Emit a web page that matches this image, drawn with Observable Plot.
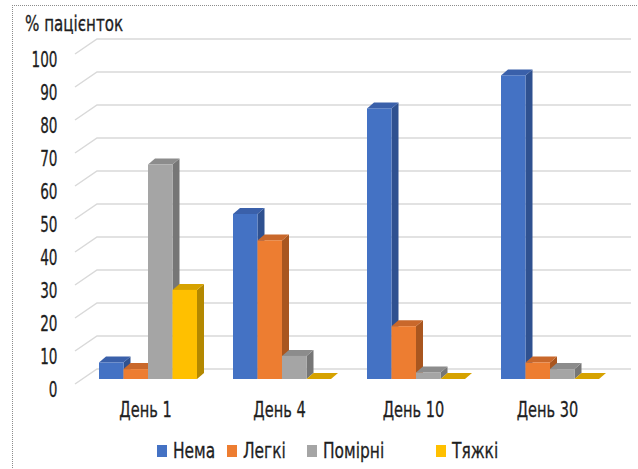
<!DOCTYPE html>
<html><head><meta charset="utf-8">
<script src="https://cdn.jsdelivr.net/npm/d3@7"></script>
<script src="https://cdn.jsdelivr.net/npm/@observablehq/plot@0.6"></script>
<style>
html,body{margin:0;padding:0;background:#fff;}
body{width:638px;height:469px;position:relative;overflow:hidden;font-family:"DejaVu Sans Condensed","DejaVu Sans",sans-serif;color:#1e1e1e;}
#frame{position:absolute;left:12px;top:5px;width:700px;height:600px;border-left:1px dotted #8c8c8c;border-top:1px dotted #8c8c8c;}
#title{position:absolute;left:25px;top:12px;font-size:21px;transform:scaleX(0.8);transform-origin:left center;white-space:nowrap;-webkit-text-stroke:0.3px #1e1e1e;}
#chart{position:absolute;left:0;top:0;}
#chart text{stroke:#1e1e1e;stroke-width:0.3px;}
#legend{position:absolute;left:157px;top:438px;display:flex;align-items:center;font-size:22px;white-space:nowrap;}
.item{display:flex;align-items:center;}
.sw{display:inline-block;width:10px;height:12px;margin-right:6px;flex:none;}
.lt{display:inline-block;transform:scaleX(0.78);transform-origin:left center;-webkit-text-stroke:0.3px #1e1e1e;}
</style></head><body>
<div id="frame"></div>
<div id="chart"></div>
<div id="title">% пацієнток</div>
<div id="legend"></div>
<script>
const days = ["День 1", "День 4", "День 10", "День 30"];
const series = ["Нема", "Легкі", "Помірні", "Тяжкі"];
const nema = [5, 50, 82, 92];
const legki = [3, 42, 16, 5];
const pomirni = [65, 7, 2, 3];
const tyazhki = [27, 0, 0, 0];
const yTicks = [0, 10, 20, 30, 40, 50, 60, 70, 80, 90, 100];

const frontColors = ["#4472C4", "#ED7D31", "#A5A5A5", "#FFC000"];
const topColors = ["#3A60AA", "#C9682B", "#8C8C8C", "#D6A200"];
const sideColors = ["#2F5190", "#A9561F", "#767676", "#B38800"];

const valuesBySeries = [nema, legki, pomirni, tyazhki];
const data = [];
days.forEach((day, di) => series.forEach((s, si) => data.push({day, series: s, si, value: valuesBySeries[si][di]})));

// layout
const W = 638, mL = 81, mR = 21, mT = 49, mB = 50, H = 429;
const bw = (W - mL - mR) / days.length;
const barW = 24.5;
const groupPad = (bw - series.length * barW) / 2;
const dX = 7, dY = -6;

function pick(args) {
  const scales = args.find(a => a && typeof a.x === "function" && typeof a.y === "function");
  const dims = args.find(a => a && typeof a === "object" && "marginLeft" in a && "width" in a);
  return {scales, dims};
}

function wallGrid(...args) {
  const {scales, dims} = pick(args);
  const g = d3.create("svg:g").attr("fill", "none").attr("stroke", "#d9d9d9").attr("stroke-width", 1.5);
  for (const v of yTicks) {
    const yf = scales.y(v);
    g.append("polyline").attr("points", [
      [dims.marginLeft - 6, yf + 5],
      [dims.marginLeft + 16, yf - 10],
      [dims.width - 7, yf - 10]
    ].map(p => p.join(",")).join(" "));
  }
  return g.node();
}

function depthFaces(...args) {
  const {scales} = pick(args);
  const g = d3.create("svg:g");
  const yB = scales.y(0);
  const pts = a => a.map(p => p.join(",")).join(" ");
  for (const d of data) {
    const x0 = scales.x(d.day) + groupPad + d.si * barW, x1 = x0 + barW;
    const yT = scales.y(d.value);
    g.append("polygon").attr("fill", sideColors[d.si])
      .attr("points", pts([[x1, yT], [x1 + dX, yT + dY], [x1 + dX, yB + dY], [x1, yB]]));
    g.append("polygon").attr("fill", topColors[d.si])
      .attr("points", pts([[x0, yT], [x1, yT], [x1 + dX, yT + dY], [x0 + dX, yT + dY]]));
  }
  return g.node();
}

const fronts = series.map((s, i) => Plot.barY(data.filter(d => d.series === s), {
  x: "day", y: "value", fill: frontColors[i],
  insetLeft: groupPad + i * barW, insetRight: bw - groupPad - (i + 1) * barW
}));

const chart = Plot.plot({
  width: W, height: H,
  marginLeft: mL, marginRight: mR, marginTop: mT, marginBottom: mB,
  style: {background: "transparent", fontFamily: '"DejaVu Sans Condensed","DejaVu Sans",sans-serif', color: "#1e1e1e", overflow: "visible"},
  x: {domain: days, padding: 0},
  y: {domain: [0, 100]},
  marks: [
    wallGrid,
    depthFaces,
    ...fronts,
    Plot.axisX({tickSize: 0, tickPadding: 23, fontSize: 21, label: null, dx: -3, ariaLabel: "x-axis"}),
    Plot.axisY(yTicks, {tickSize: 0, tickPadding: 24, fontSize: 21, label: null, dy: 11, ariaLabel: "y-axis"})
  ]
});
document.getElementById("chart").appendChild(chart);

// condense axis label glyphs horizontally (the reference uses a condensed face)
function condense(sel, k) {
  chart.querySelectorAll(sel).forEach(t => {
    const w = t.getComputedTextLength();
    if (w > 0) { t.setAttribute("textLength", (w * k).toFixed(2)); t.setAttribute("lengthAdjust", "spacingAndGlyphs"); }
  });
}
condense('g[aria-label="y-axis"] text, g[aria-label="y-axis tick label"] text', 0.72);
condense('g[aria-label="x-axis"] text, g[aria-label="x-axis tick label"] text', 0.77);

const legendSlots = [70, 80, 129, 80];
const legend = document.getElementById("legend");
series.forEach((s, i) => {
  const it = document.createElement("div");
  it.className = "item";
  it.style.width = legendSlots[i] + "px";
  it.innerHTML = `<span class="sw" style="background:${frontColors[i]}"></span><span class="lt">${s}</span>`;
  legend.appendChild(it);
});
</script>
</body></html>
